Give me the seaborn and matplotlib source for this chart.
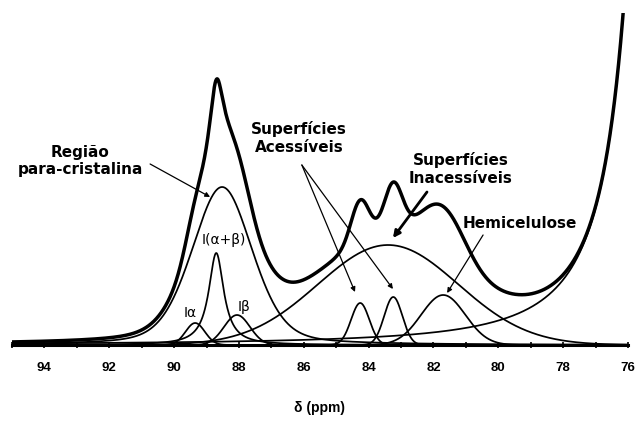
import numpy as np
import pandas as pd
import matplotlib
matplotlib.use("Agg")
import matplotlib.pyplot as plt
import seaborn as sns

# Deconvolution of the C4 region of a cellulose CP/MAS 13C spectrum.
# Each component: centre (ppm), height (arb.), FWHM (ppm), Lorentzian fraction.
peak_names = ["I\u03b1", "I(\u03b1+\u03b2)", "I\u03b2", "para-cristalina",
              "acessivel 1", "acessivel 2", "inacessivel", "hemicelulose", "C2,3,5"]
peak_centers = [89.35, 88.70, 88.06, 88.52, 84.26, 83.24, 83.40, 81.70, 75.00]
peak_heights = [22, 92, 30, 158, 42, 48, 100, 50, 1110]
peak_fwhm = [0.70, 0.56, 0.94, 2.20, 0.66, 0.66, 5.10, 1.60, 1.50]
peak_lorentz = [0.0, 1.0, 0.0, 0.3, 0.0, 0.0, 0.0, 0.0, 1.0]

tick_major = [94, 92, 90, 88, 86, 84, 82, 80, 78, 76]
x_range = (95, 76)


def pseudo_voigt(x, c, h, w, eta):
    d = x - c
    g = np.exp(-4 * np.log(2) * d ** 2 / w ** 2)
    lor = 1.0 / (1.0 + 4 * d ** 2 / w ** 2)
    return h * (eta * lor + (1 - eta) * g)


ppm = np.linspace(x_range[0], x_range[1], 3000)
components = {n: pseudo_voigt(ppm, c, h, w, e)
              for n, c, h, w, e in zip(peak_names, peak_centers, peak_heights,
                                        peak_fwhm, peak_lorentz)}
total = np.sum(list(components.values()), axis=0)

sns.set_style("white")
plt.rcParams["font.family"] = ["DejaVu Sans"]
plt.rcParams["text.color"] = "black"
plt.rcParams["xtick.color"] = "black"
plt.rcParams["axes.labelcolor"] = "black"

fig = plt.figure(figsize=(6.35, 4.26), dpi=100)
ax = fig.add_axes([12 / 635, (426 - 347) / 426, 616 / 635, 334 / 426])

for name, comp in components.items():
    sns.lineplot(x=ppm, y=comp, ax=ax, color="black", lw=1.25,
                 estimator=None, sort=False)
sns.lineplot(x=ppm, y=total, ax=ax, color="black", lw=2.5,
             estimator=None, sort=False)

ax.set_xlim(*x_range)
ax.set_ylim(-2, 332)
for s in ["left", "right", "top"]:
    ax.spines[s].set_visible(False)
ax.spines["bottom"].set_linewidth(2.2)
ax.spines["bottom"].set_color("black")
ax.spines["bottom"].set_position(("data", 0))
ax.set_yticks([])
ax.set_xticks(tick_major)
ax.set_xticks(np.arange(95, 75.5, -1), minor=True)
ax.tick_params(axis="x", which="both", direction="inout", length=5, width=1.2,
               pad=10, bottom=True, colors="black")
ax.set_xticklabels([str(t) for t in tick_major], fontsize=9.5,
                   fontweight="bold", family="Liberation Sans")
ax.set_xlabel("\u03b4 (ppm)", fontsize=10, fontweight="bold",
              family="Liberation Sans", labelpad=19)

bold = dict(fontsize=11, fontweight="bold", ha="center", va="center",
            linespacing=1.2, color="black")
ax.text(92.90, 184, "Região\npara-cristalina", **bold)
ax.text(86.15, 207, "Superfícies\nAcessíveis", **bold)
ax.text(81.15, 176, "Superfícies\nInacessíveis", **bold)
ax.text(79.33, 121, "Hemicelulose", **bold)

small = dict(fontsize=10, ha="center", va="center", color="black")
ax.text(88.46, 105, "I(\u03b1+\u03b2)", **small)
ax.text(89.51, 32, "I\u03b1", **small)
ax.text(87.84, 38, "I\u03b2", **small)

thin = dict(arrowstyle="-|>", color="black", lw=0.9, mutation_scale=7,
            shrinkA=0, shrinkB=0)
ax.annotate("", xy=(88.89, 148), xytext=(90.74, 181), arrowprops=thin)
ax.annotate("", xy=(84.42, 53), xytext=(86.06, 180), arrowprops=thin)
ax.annotate("", xy=(83.25, 56), xytext=(86.06, 180), arrowprops=thin)
ax.annotate("", xy=(81.58, 52), xytext=(80.47, 110), arrowprops=thin)
ax.annotate("", xy=(83.25, 107), xytext=(82.20, 153),
            arrowprops=dict(arrowstyle="-|>", color="black", lw=2,
                            mutation_scale=10, shrinkA=0, shrinkB=0))

fig.savefig("out.png", dpi=100)
